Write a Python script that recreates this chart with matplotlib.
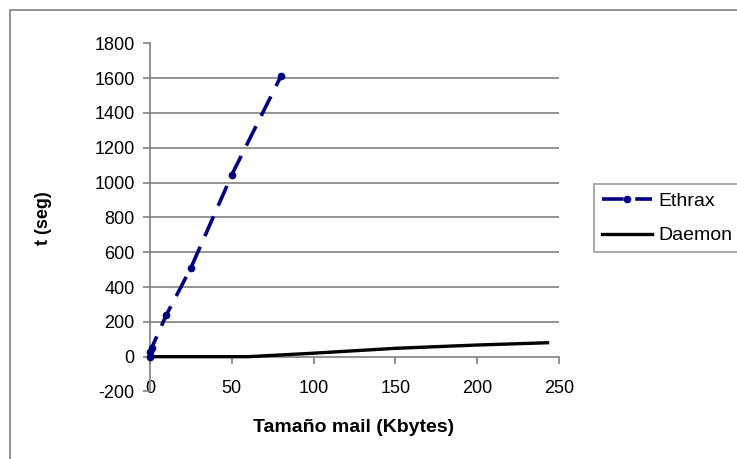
import matplotlib
matplotlib.use("Agg")
import matplotlib.pyplot as plt
from matplotlib.patches import Rectangle

# Data
ethrax_x = [0, 0, 1, 10, 25, 50, 80]
ethrax_y = [0, 25, 50, 240, 510, 1045, 1610]
daemon_x = [0, 60, 100, 116, 150, 200, 243]
daemon_y = [0, 0, 20, 29, 48, 67, 80]
x_ticks = [0, 50, 100, 150, 200, 250]
y_ticks = [-200, 0, 200, 400, 600, 800, 1000, 1200, 1400, 1600, 1800]

plt.rcParams['font.family'] = ['Liberation Sans', 'DejaVu Sans']
plt.rcParams['axes.unicode_minus'] = False

W, H = 737, 459
fig = plt.figure(figsize=(W / 100, H / 100), dpi=100)
fig.patch.set_facecolor('white')

# outer chart-area border
fig.patches.append(Rectangle((10 / W, -0.1), 1.2, 1 - 10 / H + 0.1,
                             transform=fig.transFigure, fill=False,
                             edgecolor='#808080', lw=1.2))

left, right = 150 / W, 559 / W
bottom, top = 1 - 391.5 / H, 1 - 43.3 / H
ax = fig.add_axes([left, bottom, right - left, top - bottom])
ax.set_xlim(0, 250)
ax.set_ylim(-200, 1800)

gray = '#808080'
for v in y_ticks:
    if 0 < v < 1800:
        ax.axhline(v, color=gray, lw=1.2, zorder=1)

ax.plot(ethrax_x, ethrax_y, color='#000080', lw=2.6, linestyle=(0, (6, 3.2)),
        marker='o', markersize=4.5, label='Ethrax', zorder=4, clip_on=False)
ax.plot(daemon_x, daemon_y, color='black', lw=2.4, label='Daemon', zorder=3,
        clip_on=False)

for s in ['top', 'right']:
    ax.spines[s].set_visible(False)
ax.spines['left'].set_color(gray)
ax.spines['left'].set_linewidth(1.2)
ax.spines['bottom'].set_position(('data', 0))
ax.spines['bottom'].set_color(gray)
ax.spines['bottom'].set_linewidth(1.2)

ax.set_xticks(x_ticks)
ax.set_yticks(y_ticks)
ax.tick_params(axis='y', direction='out', length=5, width=1.2, color=gray,
               labelsize=13, pad=6)
ax.tick_params(axis='x', direction='out', length=5, width=1.2, color=gray,
               labelsize=13, pad=12)

fig.text(354 / W, 1 - 427 / H, 'Tamaño mail (Kbytes)', ha='center', va='center',
         fontsize=14, fontweight='bold')
fig.text(44 / W, 1 - 218 / H, 't (seg)', ha='center', va='center',
         rotation=90, fontsize=13, fontweight='bold')

leg = fig.legend(loc='upper left',
                 bbox_to_anchor=(594 / W, 1 - 189 / H, 200 / W, 0.01),
                 bbox_transform=fig.transFigure, mode='expand', frameon=True,
                 fancybox=False, edgecolor=gray, fontsize=14,
                 handlelength=2.6, handletextpad=0.3, borderpad=0.4,
                 labelspacing=0.87, borderaxespad=0)
leg.get_frame().set_linewidth(1.2)
leg.get_frame().set_facecolor('none')

fig.savefig('out.png', dpi=100, facecolor='white')
